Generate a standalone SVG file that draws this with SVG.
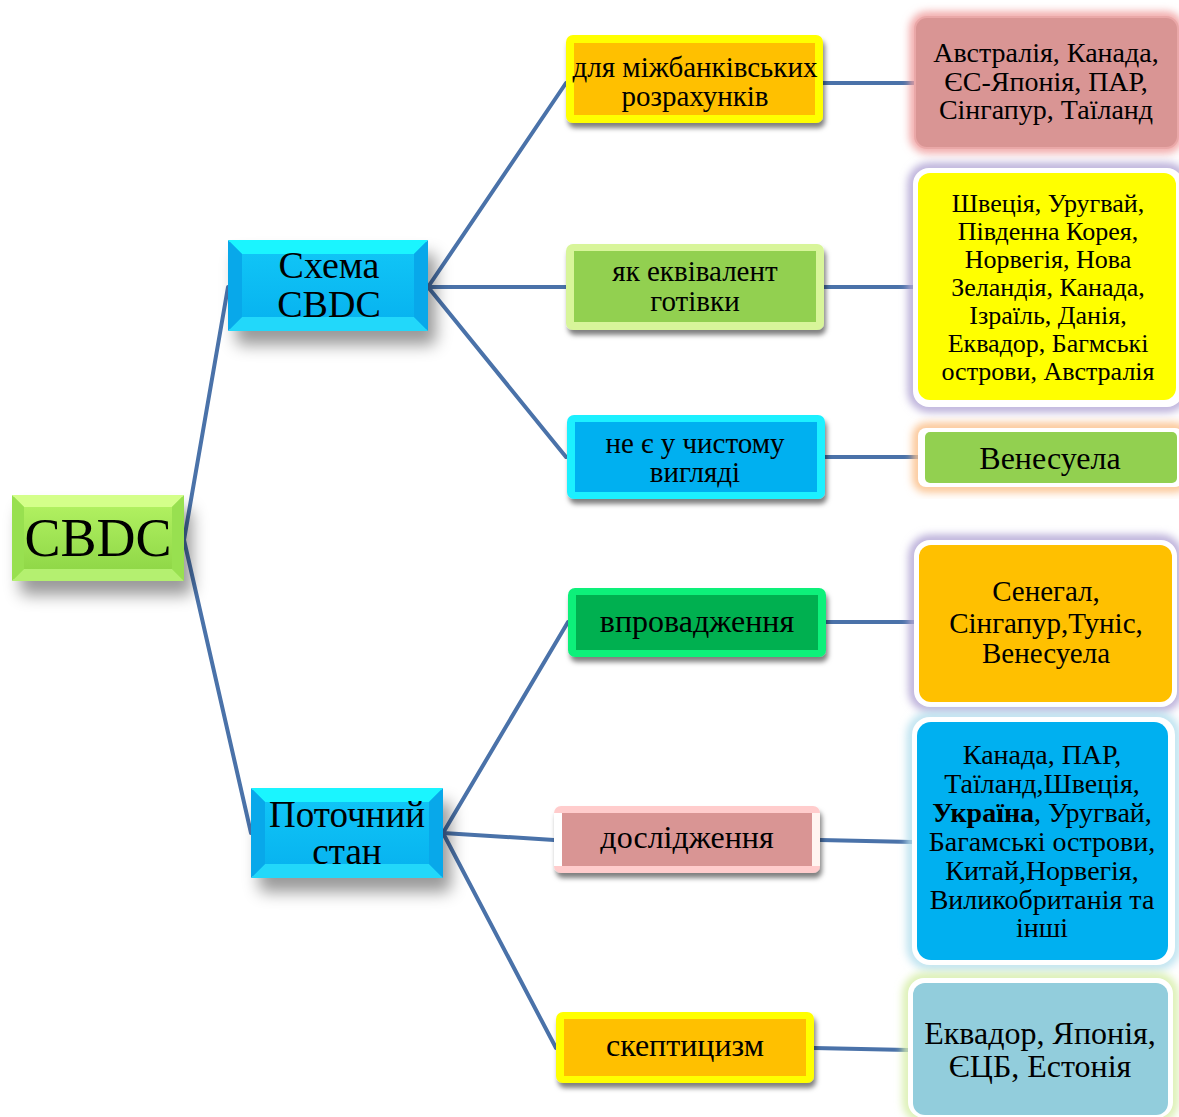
<svg xmlns="http://www.w3.org/2000/svg" width="1179" height="1117" viewBox="0 0 1179 1117">
<defs>
<filter id="bigShadow" x="-20%" y="-30%" width="150%" height="190%"><feDropShadow dx="8" dy="14" stdDeviation="8" flood-color="#000" flood-opacity="0.4"/></filter>
<filter id="smallShadow" x="-10%" y="-20%" width="130%" height="160%"><feDropShadow dx="2" dy="5" stdDeviation="2.5" flood-color="#000" flood-opacity="0.5"/></filter>
<filter id="glow" x="-20%" y="-20%" width="140%" height="140%"><feGaussianBlur stdDeviation="4"/></filter>
<linearGradient id="gGreen" x1="0" y1="0" x2="0" y2="1"><stop offset="0" stop-color="#b0f060"/><stop offset="1" stop-color="#90d848"/></linearGradient>
<linearGradient id="gCyan" x1="0" y1="0" x2="0" y2="1"><stop offset="0" stop-color="#10c4f6"/><stop offset="1" stop-color="#08b4f0"/></linearGradient>
</defs>
<style>
.t{font-family:"Liberation Serif","Times New Roman",serif;fill:#000;text-anchor:middle}
.conn{stroke:#4a72a9;stroke-width:4;fill:none;stroke-linecap:round}
.glow{fill:none;stroke-width:10;filter:url(#glow)}
.rim{fill:#ffffff}
</style>

<g id="connectors">
<path class="conn" d="M184,540 L228,287"/>
<path class="conn" d="M184,540 L251,833"/>
<path class="conn" d="M428,287 L566,83"/>
<path class="conn" d="M428,287 L566,287"/>
<path class="conn" d="M428,287 L566,457"/>
<path class="conn" d="M443,833 L568,622"/>
<path class="conn" d="M443,833 L554,840"/>
<path class="conn" d="M443,833 L556,1048"/>
<path class="conn" d="M823,83 L915,83"/>
<path class="conn" d="M824,287 L913,287"/>
<path class="conn" d="M825,457 L918,457"/>
<path class="conn" d="M826,622 L914,622"/>
<path class="conn" d="M820,840 L912,842"/>
<path class="conn" d="M814,1048 L908,1050"/>
</g>

<g id="node-cbdc">
<rect x="12" y="495" width="172" height="86" rx="6" fill="#a0e858" filter="url(#bigShadow)"/>
<polygon points="12,495 184,495 172,507 24,507" fill="#d4ff8a"/>
<polygon points="12,581 184,581 172,569 24,569" fill="#b4f070"/>
<polygon points="12,495 24,507 24,569 12,581" fill="#98e050"/>
<polygon points="184,495 172,507 172,569 184,581" fill="#98e050"/>
<rect x="24" y="507" width="148" height="62" fill="url(#gGreen)"/>
<text class="t" x="98" y="556" font-size="54">CBDC</text>
</g>

<g id="node-scheme">
<rect x="228" y="240" width="200" height="91" rx="6" fill="#10c0f4" filter="url(#bigShadow)"/>
<polygon points="228,240 428,240 414,254 242,254" fill="#1af5ff"/>
<polygon points="228,331 428,331 414,317 242,317" fill="#22d8fa"/>
<polygon points="228,240 242,254 242,317 228,331" fill="#08a8ea"/>
<polygon points="428,240 414,254 414,317 428,331" fill="#08a8ea"/>
<rect x="242" y="254" width="172" height="63" fill="url(#gCyan)"/>
<text class="t" x="329" y="278" font-size="38">Схема</text>
<text class="t" x="329" y="317" font-size="38">CBDC</text>
</g>

<g id="node-state">
<rect x="251" y="788" width="192" height="90" rx="6" fill="#10c0f4" filter="url(#bigShadow)"/>
<polygon points="251,788 443,788 429,802 265,802" fill="#1af5ff"/>
<polygon points="251,878 443,878 429,864 265,864" fill="#22d8fa"/>
<polygon points="251,788 265,802 265,864 251,878" fill="#08a8ea"/>
<polygon points="443,788 429,802 429,864 443,878" fill="#08a8ea"/>
<rect x="265" y="802" width="164" height="62" fill="url(#gCyan)"/>
<text class="t" x="347" y="827" font-size="37">Поточний</text>
<text class="t" x="347" y="864" font-size="37">стан</text>
</g>

<g id="node-interbank">
<rect x="566" y="35" width="257" height="88" rx="7" fill="#ffff00" filter="url(#smallShadow)"/>
<rect x="574" y="43" width="241" height="72" fill="#ffc000"/>
<text class="t" x="695" y="77" font-size="29">для міжбанківських</text>
<text class="t" x="695" y="106" font-size="29">розрахунків</text>
</g>

<g id="node-cash">
<rect x="566" y="244" width="258" height="86" rx="7" fill="#d8f59a" filter="url(#smallShadow)"/>
<rect x="574" y="251" width="242" height="71" fill="#92d050"/>
<text class="t" x="695" y="281" font-size="29">як еквівалент</text>
<text class="t" x="695" y="311" font-size="29">готівки</text>
</g>

<g id="node-notpure">
<rect x="567" y="415" width="258" height="84" rx="7" fill="#1ff0ff" filter="url(#smallShadow)"/>
<rect x="575" y="422" width="242" height="70" fill="#00b0f0"/>
<text class="t" x="695" y="453" font-size="29">не є у чистому</text>
<text class="t" x="695" y="482" font-size="29">вигляді</text>
</g>

<g id="node-implement">
<rect x="568" y="588" width="258" height="69" rx="7" fill="#0df07a" filter="url(#smallShadow)"/>
<rect x="576" y="595" width="242" height="55" fill="#00b050"/>
<text class="t" x="697" y="632" font-size="32">впровадження</text>
</g>

<g id="node-research">
<rect x="554" y="806" width="266" height="67" rx="7" fill="#ffcccc" filter="url(#smallShadow)"/>
<rect x="554" y="813" width="8" height="53" fill="#ffffff"/>
<rect x="812" y="813" width="8" height="53" fill="#fff4f0"/>
<rect x="562" y="813" width="250" height="53" fill="#d99594"/>
<text class="t" x="687" y="848" font-size="32">дослідження</text>
</g>

<g id="node-skeptic">
<rect x="556" y="1012" width="258" height="71" rx="7" fill="#ffff00" filter="url(#smallShadow)"/>
<rect x="564" y="1019" width="242" height="57" fill="#ffc000"/>
<text class="t" x="685" y="1056" font-size="32">скептицизм</text>
</g>

<g id="node-list-interbank">
<rect class="glow" x="915" y="17" width="263" height="131" rx="12" stroke="#f0a0a0"/>
<rect x="915" y="17" width="263" height="131" rx="12" fill="#d99594" stroke="#eaa8a8" stroke-width="2"/>
<text class="t" x="1046" y="62" font-size="28">Австралія, Канада,</text>
<text class="t" x="1046" y="91" font-size="28">ЄС-Японія, ПАР,</text>
<text class="t" x="1046" y="119" font-size="28">Сінгапур, Таїланд</text>
</g>

<g id="node-list-cash">
<rect class="glow" x="913" y="168" width="270" height="239" rx="16" stroke="#b4a7d6"/>
<rect class="rim" x="913" y="168" width="270" height="239" rx="16"/>
<rect x="918" y="173" width="258" height="227" rx="12" fill="#ffff00"/>
<text class="t" x="1048" y="212" font-size="26">Швеція, Уругвай,</text>
<text class="t" x="1048" y="240" font-size="26">Південна Корея,</text>
<text class="t" x="1048" y="268" font-size="26">Норвегія, Нова</text>
<text class="t" x="1048" y="296" font-size="26">Зеландія, Канада,</text>
<text class="t" x="1048" y="324" font-size="26">Ізраїль, Данія,</text>
<text class="t" x="1048" y="352" font-size="26">Еквадор, Багмські</text>
<text class="t" x="1048" y="380" font-size="26">острови, Австралія</text>
</g>

<g id="node-list-notpure">
<rect class="glow" x="918" y="428" width="265" height="59" rx="8" stroke="#fbc08a"/>
<rect class="rim" x="918" y="428" width="265" height="59" rx="8"/>
<rect x="925" y="432" width="252" height="51" rx="5" fill="#92d050"/>
<text class="t" x="1050" y="469" font-size="32">Венесуела</text>
</g>

<g id="node-list-implement">
<rect class="glow" x="914" y="540" width="263" height="167" rx="16" stroke="#b4a7d6"/>
<rect class="rim" x="914" y="540" width="263" height="167" rx="16"/>
<rect x="919" y="545" width="253" height="157" rx="12" fill="#ffc000"/>
<text class="t" x="1046" y="601" font-size="29">Сенегал,</text>
<text class="t" x="1046" y="633" font-size="29">Сінгапур,Туніс,</text>
<text class="t" x="1046" y="663" font-size="29">Венесуела</text>
</g>

<g id="node-list-research">
<rect class="glow" x="912" y="717" width="263" height="248" rx="18" stroke="#b7e0ee"/>
<rect class="rim" x="912" y="717" width="263" height="248" rx="18"/>
<rect x="917" y="722" width="251" height="238" rx="14" fill="#00b0f0"/>
<text class="t" x="1042" y="764" font-size="28">Канада, ПАР,</text>
<text class="t" x="1042" y="793" font-size="28">Таїланд,Швеція,</text>
<text class="t" x="1042" y="822" font-size="28"><tspan font-weight="bold">Україна</tspan>, Уругвай,</text>
<text class="t" x="1042" y="851" font-size="28">Багамські острови,</text>
<text class="t" x="1042" y="880" font-size="28">Китай,Норвегія,</text>
<text class="t" x="1042" y="909" font-size="28">Виликобританія та</text>
<text class="t" x="1042" y="937" font-size="28">інші</text>
</g>

<g id="node-list-skeptic">
<rect class="glow" x="908" y="978" width="265" height="140" rx="16" stroke="#d7eeaa"/>
<rect class="rim" x="908" y="978" width="265" height="140" rx="16"/>
<rect x="913" y="983" width="255" height="132" rx="12" fill="#92cddc"/>
<text class="t" x="1040" y="1044" font-size="32">Еквадор, Японія,</text>
<text class="t" x="1040" y="1077" font-size="32">ЄЦБ, Естонія</text>
</g>
</svg>
